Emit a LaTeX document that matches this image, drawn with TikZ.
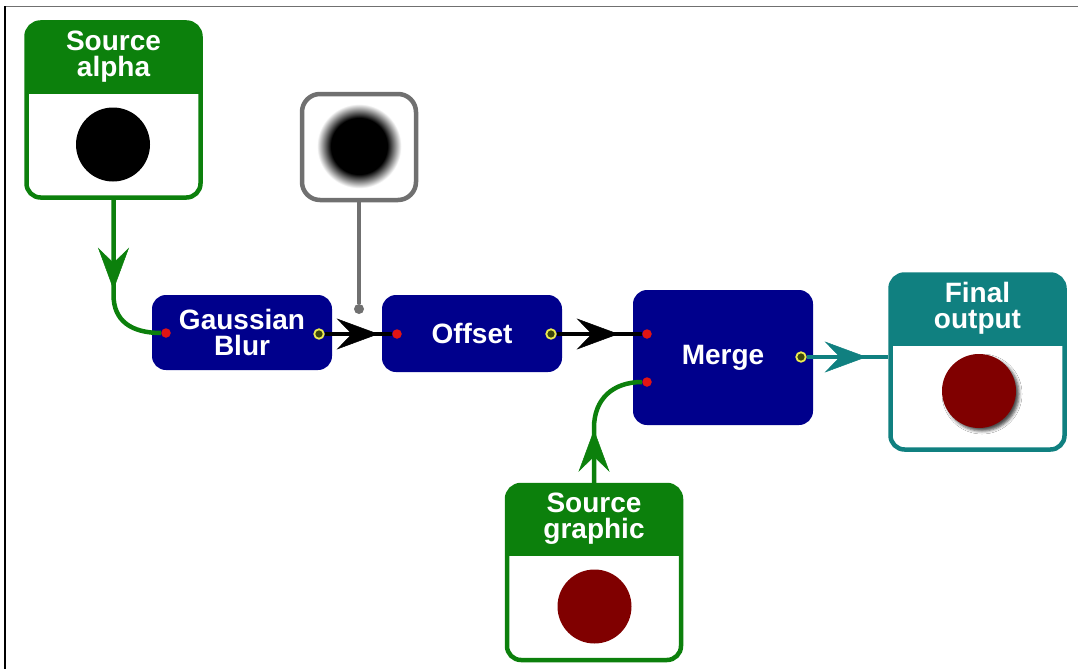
\documentclass[tikz,border=0pt]{standalone}
\usepackage{fontspec}
\setmainfont{Liberation Sans}
\usetikzlibrary{positioning,arrows.meta,calc,decorations.markings,shadows.blur}

\definecolor{srcgreen}{RGB}{12,128,12}
\definecolor{outteal}{RGB}{16,128,128}
\definecolor{filterblue}{RGB}{0,0,140}
\definecolor{stemgray}{RGB}{112,112,112}
\definecolor{portred}{RGB}{225,20,20}
\definecolor{portyellow}{RGB}{235,235,80}
\definecolor{portdark}{RGB}{60,70,10}
\definecolor{imgred}{RGB}{128,0,0}

\newcommand\cardfont{\fontsize{28}{26}\selectfont\bfseries}

\pgfdeclareradialshading{softdot}{\pgfpoint{0bp}{0bp}}{color(0bp)=(black); color(16bp)=(black); color(24bp)=(white); color(50bp)=(white)}

\begin{document}
\begin{tikzpicture}[
    x=1pt, y=-1pt,
    card/.style={
        rectangle,
        rounded corners=14pt,
        line width=4.5pt,
        draw=#1,
        fill=white,
        minimum width=174pt,
        minimum height=175pt,
        inner sep=0pt,
        path picture={\fill[#1, sharp corners] (path picture bounding box.north west) rectangle ([yshift=-71pt]path picture bounding box.north east);}
    },
    cardtitle/.style={text=white, font=\cardfont, align=center, inner sep=0pt},
    filter/.style={
        rectangle,
        rounded corners=14pt,
        fill=filterblue,
        minimum width=180pt,
        text=white,
        font=\cardfont,
        align=center
    },
    picdot/.style={circle, inner sep=0pt, minimum size=74pt},
    inport/.style={circle, fill=portred, inner sep=0pt, minimum size=9.5pt},
    outport/.style={circle, draw=portyellow, line width=1.8pt, fill=portdark, inner sep=0pt, minimum size=9.5pt},
    bigtip/.tip={Stealth[length=42pt, width=31pt, inset=15pt, line width=0.5pt]},
    flow/.style 2 args={
        line width=4.5pt,
        color=#1,
        postaction={decorate, decoration={markings, mark=at position #2 with {\arrow{bigtip}}}}
    }
]
\useasboundingbox (0,0) rectangle (1078,669);
\draw[stemgray, line width=1.5pt] (5,6.5) -- (1078,6.5);
\draw[line width=1.5pt] (5,6.5) -- (5,669);

% sources and result
\node[card=srcgreen] (alpha) at (113.5,110) {};
\node[cardtitle] (alpha-title) at ([yshift=-36pt]alpha.north) {Source\\alpha};
\node[picdot, fill=black] (alpha-img) at (113,144.5) {};

\node[card=srcgreen] (graphic) at (594,572.5) {};
\node[cardtitle] (graphic-title) at ([yshift=-36pt]graphic.north) {Source\\graphic};
\node[picdot, fill=imgred] (graphic-img) at (594.5,606.5) {};

\node[card=outteal] (final) at (977.5,362) {};
\node[cardtitle] (final-title) at ([yshift=-36pt]final.north) {Final\\output};
\node[picdot, fill=imgred, blur shadow={shadow xshift=3pt, shadow yshift=-3pt, shadow blur radius=3pt, shadow opacity=70}] (final-img) at (979,391) {};

% blurred preview
\node[rectangle, rounded corners=18pt, draw=stemgray, line width=4.5pt, fill=white, minimum width=114pt, minimum height=106pt] (softbox) at (359,147) {};
\node[circle, minimum size=88pt, inner sep=0pt, shade, shading=softdot] (soft-img) at (359,146) {};
\node[circle, fill=stemgray, inner sep=0pt, minimum size=10pt] (pin) at (359,309) {};
\draw[stemgray, line width=4.5pt] (softbox.south) -- (pin);

% filters
\node[filter, minimum height=75pt] (blur) at (242,332.5) {Gaussian\\Blur};
\node[filter, minimum height=77pt] (offset) at (472,333.5) {Offset};
\node[filter, minimum height=135pt] (merge) at (723,357.5) {Merge};

\node[inport] (blur-in) at (166,333) {};
\node[outport] (blur-out) at (319,334) {};
\node[inport] (offset-in) at (397,334) {};
\node[outport] (offset-out) at (551,334) {};
\node[inport] (merge-in1) at (647,334) {};
\node[inport] (merge-in2) at (647,382) {};
\node[outport] (merge-out) at (801,357) {};

% connectors
\draw[flow={srcgreen}{90pt}] (alpha.south) -- ++(0,95) .. controls +(0,26) and +(-30,0) .. (blur-in.west);
\draw[flow={srcgreen}{53pt}] (graphic.north) -- ++(0,-55) .. controls +(0,-28) and +(-30,0) .. (merge-in2.west);
\draw[flow={black}{54pt}] (blur-out.east) -- (offset-in.west);
\draw[flow={black}{62pt}] (offset-out.east) -- (merge-in1.west);
\draw[flow={outteal}{60pt}] (merge-out.east) -- (merge-out.east -| final.west);
\end{tikzpicture}
\end{document}
